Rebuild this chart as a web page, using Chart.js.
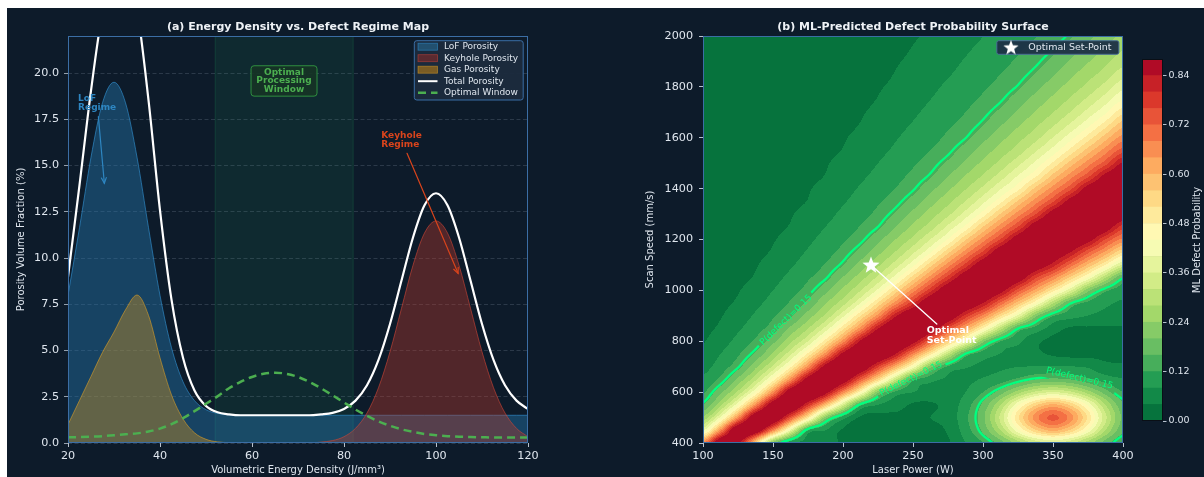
<!DOCTYPE html>
<html><head><meta charset="utf-8">
<script src="https://cdn.jsdelivr.net/npm/chart.js@4.4.1/dist/chart.umd.min.js"></script>
<style>
html,body{margin:0;padding:0;background:#ffffff;}
body{width:1204px;height:477px;overflow:hidden;position:relative;}
#fig{position:absolute;left:7px;top:8px;width:1197px;height:469px;background:#0d1b2a;}
canvas{position:absolute;top:0;}
</style></head><body>
<div id="fig"></div>
<canvas id="chartA" width="600" height="477" style="left:0;width:600px;height:477px;"></canvas>
<canvas id="chartB" width="540" height="477" style="left:600px;width:540px;height:477px;"></canvas>
<canvas id="chartC" width="76" height="477" style="left:1128px;width:76px;height:477px;"></canvas>
<script>
// ---------------- DATA: panel (a) ----------------
const energyDensity = [20,22.5,25,27.5,30,32.5,35,37.5,40,42.5,45,47.5,50,52.5,55,57.5,60,62.5,65,67.5,70,72.5,75,77.5,80,82.5,85,87.5,90,92.5,95,97.5,100,102.5,105,107.5,110,112.5,115,117.5,120];
const lofPorosity = [7.98,11.64,15.45,18.39,19.5,18.39,15.45,11.64,7.98,5.15,3.31,2.29,1.80,1.60,1.53,1.5,1.5,1.5,1.5,1.5,1.5,1.5,1.5,1.5,1.5,1.5,1.5,1.5,1.5,1.5,1.5,1.5,1.5,1.5,1.5,1.5,1.5,1.5,1.5,1.5,1.5];
const keyholePorosity = [0,0,0,0,0,0,0,0,0,0,0,0,0,0,0,0,0,0,0,0,0,0,0.05,0.13,0.34,0.79,1.62,2.99,4.93,7.28,9.61,11.35,12.0,11.35,9.61,7.28,4.93,2.99,1.62,0.79,0.34];
const gasPorosity = [1.0,2.3,3.6,4.9,6.0,7.2,8.0,6.9,4.6,2.6,1.3,0.55,0.2,0.06,0.02,0,0,0,0,0,0,0,0,0,0,0,0,0,0,0,0,0,0,0,0,0,0,0,0,0,0];
const totalPorosity = [8.98,13.94,19.05,23.3,25.5,25.6,23.45,18.54,12.58,7.75,4.61,2.84,2.0,1.66,1.55,1.5,1.5,1.5,1.5,1.5,1.5,1.5,1.55,1.63,1.84,2.29,3.12,4.49,6.43,8.78,11.11,12.85,13.5,12.85,11.11,8.78,6.43,4.49,3.12,2.29,1.84];
const optimalWindowCurve = [0.31,0.32,0.34,0.37,0.42,0.47,0.52,0.62,0.78,1.02,1.34,1.72,2.12,2.52,2.96,3.30,3.57,3.74,3.80,3.74,3.57,3.30,2.96,2.58,2.19,1.81,1.47,1.17,0.93,0.74,0.60,0.49,0.42,0.37,0.34,0.32,0.31,0.30,0.30,0.30,0.30];
const optimalRange = [52, 82];
const yTicksA = [0, 22, 2.5];

// ---------------- DATA: panel (b) ----------------
const laserPower = [100,112.5,125,137.5,150,162.5,175,187.5,200,212.5,225,237.5,250,262.5,275,287.5,300,312.5,325,337.5,350,362.5,375,387.5,400];
const scanSpeed = [400,450,500,550,600,650,700,750,800,850,900,950,1000,1050,1100,1150,1200,1250,1300,1350,1400,1450,1500,1550,1600,1650,1700,1750,1800,1850,1900,1950,2000];
const defectProb = [
[.66,.93,.87,.56,.22,.09,.066,.058,.035,.03,.03,.03,.03,.03,.035,.08,.12,.18,.26,.33,.36,.33,.26,.18,.12],
[.39,.66,.94,.91,.67,.39,.12,.08,.035,.03,.03,.03,.03,.03,.045,.10,.17,.28,.43,.55,.61,.55,.43,.28,.17],
[.25,.41,.66,.92,.94,.74,.50,.22,.10,.035,.03,.03,.03,.04,.055,.11,.19,.33,.51,.66,.73,.66,.51,.33,.19],
[.16,.27,.43,.66,.90,.95,.79,.59,.35,.135,.08,.06,.035,.035,.055,.10,.17,.28,.43,.55,.61,.55,.43,.28,.17],
[.115,.19,.29,.44,.66,.90,.96,.87,.67,.46,.215,.11,.08,.066,.06,.08,.12,.18,.26,.33,.36,.33,.26,.18,.12],
[.088,.13,.21,.31,.46,.66,.88,.96,.90,.725,.54,.33,.14,.094,.074,.074,.083,.10,.13,.16,.17,.16,.13,.10,.083],
[.066,.10,.146,.23,.33,.47,.66,.87,.96,.92,.77,.61,.43,.215,.114,.084,.076,.076,.079,.082,.084,.082,.075,.052,.046],
[.048,.08,.115,.167,.25,.35,.49,.66,.86,.95,.94,.84,.67,.50,.31,.147,.10,.079,.068,.05,.035,.03,.03,.03,.03],
[.038,.061,.093,.127,.188,.27,.36,.50,.66,.85,.95,.95,.87,.715,.56,.41,.215,.12,.09,.05,.03,.03,.03,.03,.03],
[.033,.046,.074,.104,.14,.21,.28,.375,.51,.66,.84,.94,.96,.90,.75,.62,.47,.30,.15,.106,.06,.035,.035,.035,.035],
[.029,.038,.058,.086,.115,.153,.22,.29,.39,.52,.66,.83,.93,.96,.91,.785,.67,.53,.39,.215,.124,.096,.079,.07,.064],
[.024,.033,.045,.069,.096,.125,.171,.237,.304,.40,.525,.66,.79,.92,.96,.92,.84,.709,.579,.447,.288,.154,.11,.088,.074],
[.02,.029,.038,.055,.08,.105,.136,.188,.25,.318,.41,.533,.66,.785,.91,.96,.94,.87,.74,.625,.50,.368,.215,.13,.10],
[.02,.025,.033,.043,.066,.09,.115,.146,.203,.262,.33,.419,.539,.66,.779,.90,.96,.94,.89,.767,.667,.548,.429,.283,.156],
[.02,.022,.03,.038,.053,.075,.098,.123,.159,.216,.272,.341,.428,.545,.66,.774,.90,.95,.95,.90,.82,.704,.591,.477,.353],
[.02,.02,.026,.034,.043,.063,.084,.106,.133,.174,.228,.283,.352,.436,.55,.66,.769,.90,.95,.96,.91,.84,.731,.63,.522],
[.02,.02,.023,.03,.038,.051,.072,.093,.115,.141,.188,.24,.292,.362,.443,.556,.66,.764,.89,.95,.96,.92,.87,.757,.667],
[.02,.02,.02,.028,.034,.042,.06,.08,.10,.122,.15,.20,.25,.30,.37,.45,.56,.66,.76,.89,.95,.96,.94,.89,.78],
[.02,.02,.02,.024,.031,.038,.05,.068,.088,.107,.13,.164,.212,.26,.31,.378,.459,.564,.66,.756,.88,.94,.96,.94,.90],
[.02,.02,.02,.021,.029,.034,.041,.058,.076,.095,.115,.138,.176,.222,.269,.321,.388,.467,.567,.66,.753,.87,.93,.96,.95],
[.02,.02,.02,.02,.025,.031,.038,.049,.066,.084,.101,.121,.146,.188,.232,.277,.33,.396,.467,.572,.66,.749,.87,.93,.96],
[.02,.02,.02,.02,.022,.029,.034,.041,.056,.073,.09,.108,.129,.155,.198,.242,.284,.338,.403,.472,.574,.66,.746,.86,.92],
[.02,.02,.02,.02,.02,.026,.032,.038,.048,.063,.08,.097,.115,.136,.167,.208,.25,.292,.347,.41,.487,.578,.66,.743,.85],
[.02,.02,.02,.02,.02,.023,.029,.035,.041,.054,.07,.086,.103,.12,.142,.178,.218,.258,.298,.354,.416,.493,.579,.66,.741],
[.02,.02,.02,.02,.02,.021,.027,.032,.038,.047,.061,.077,.093,.108,.127,.149,.188,.227,.266,.306,.362,.425,.498,.582,.66],
[.02,.02,.02,.02,.02,.02,.025,.03,.035,.041,.053,.068,.083,.098,.115,.133,.159,.197,.235,.273,.315,.368,.429,.503,.587],
[.02,.02,.02,.02,.02,.02,.022,.028,.033,.038,.046,.059,.074,.089,.104,.12,.14,.169,.206,.243,.279,.322,.375,.433,.508],
[.02,.02,.02,.02,.02,.02,.02,.025,.03,.035,.041,.052,.066,.08,.094,.11,.126,.146,.179,.215,.25,.286,.33,.381,.439],
[.02,.02,.02,.02,.02,.02,.02,.023,.029,.033,.038,.045,.058,.072,.086,.099,.115,.132,.153,.188,.222,.257,.292,.337,.388],
[.02,.02,.02,.02,.02,.02,.02,.021,.026,.031,.035,.041,.051,.064,.077,.091,.104,.12,.137,.162,.196,.23,.264,.297,.343],
[.02,.02,.02,.02,.02,.02,.02,.02,.024,.029,.033,.038,.045,.056,.069,.083,.096,.11,.125,.143,.171,.204,.237,.27,.304],
[.02,.02,.02,.02,.02,.02,.02,.02,.022,.027,.031,.035,.041,.05,.062,.075,.088,.101,.115,.131,.149,.18,.212,.243,.276],
[.02,.02,.02,.02,.02,.02,.02,.02,.02,.025,.029,.033,.038,.044,.055,.068,.08,.092,.105,.119,.136,.156,.19,.22,.25]
];
const colorLevels = [0,0.04,0.08,0.12,0.16,0.20,0.24,0.28,0.32,0.36,0.40,0.44,0.48,0.52,0.56,0.60,0.64,0.68,0.72,0.76,0.80,0.84,0.88];
const colorbarTicks = [0, 0.84, 0.12];
const contourLevel = 0.15;
const optimalPoint = {power: 220, speed: 1100};

// ---------------- STYLE / LAYOUT ----------------
const FONT = '"DejaVu Sans","Liberation Sans",Arial,sans-serif';
const TXT = '#dfe6ee';
const TICKC = '#b8c2ce';
const FRAME = '#3b6ea5';
const CONTOUR = '#00ff7f';
Chart.defaults.font.family = FONT;

const RDYLGN = ['#a50026','#d73027','#f46d43','#fdae61','#fee08b','#ffffbf','#d9ef8b','#a6d96a','#66bd63','#1a9850','#006837'];
function hex2rgb(h){return [parseInt(h.slice(1,3),16),parseInt(h.slice(3,5),16),parseInt(h.slice(5,7),16)];}
function rdylgnR(t){
  const s=(1-t)*10; const i=Math.min(9,Math.floor(s)); const f=s-i;
  const a=hex2rgb(RDYLGN[i]), b=hex2rgb(RDYLGN[i+1]);
  return [0,1,2].map(k=>Math.round(a[k]+(b[k]-a[k])*f));
}
const bandCount = colorLevels.length-1;
const bandRGB = [];
for(let i=0;i<bandCount;i++) bandRGB.push(rdylgnR((i+0.5)/bandCount));
function bandOf(p){
  let b=0; while(b<bandCount-1 && p>=colorLevels[b+1]) b++; return b;
}
function catmull(p0,p1,p2,p3,t){return p1+0.5*t*(p2-p0+t*(2*p0-5*p1+4*p2-p3+t*(3*(p1-p2)+p3-p0)));}
function sampleSurface(P,v){
  const nx=laserPower.length, ny=scanSpeed.length;
  const gx=(P-laserPower[0])/(laserPower[1]-laserPower[0]);
  const gy=(v-scanSpeed[0])/(scanSpeed[1]-scanSpeed[0]);
  let ix=Math.max(0,Math.min(nx-2,Math.floor(gx))), iy=Math.max(0,Math.min(ny-2,Math.floor(gy)));
  const tx=Math.max(0,Math.min(1,gx-ix)), ty=Math.max(0,Math.min(1,gy-iy));
  const g=(r,c)=>defectProb[Math.max(0,Math.min(ny-1,r))][Math.max(0,Math.min(nx-1,c))];
  const col=[];
  for(let j=-1;j<=2;j++){const r=iy+j; col.push(catmull(g(r,ix-1),g(r,ix),g(r,ix+1),g(r,ix+2),tx));}
  return catmull(col[0],col[1],col[2],col[3],ty);
}
function makeStar(r,color){
  const s=Math.ceil(r*2+2); const c=document.createElement('canvas'); c.width=s; c.height=s;
  const g=c.getContext('2d'); g.translate(s/2,s/2+0.5); g.beginPath();
  for(let i=0;i<10;i++){const rr=i%2?r*0.42:r; const a=-Math.PI/2+i*Math.PI/5; g.lineTo(rr*Math.cos(a),rr*Math.sin(a));}
  g.closePath(); g.fillStyle=color; g.fill(); return c;
}
function arrow(ctx,x1,y1,x2,y2,color,lw,head){
  ctx.save(); ctx.strokeStyle=color; ctx.lineWidth=lw; ctx.lineCap='round';
  ctx.beginPath(); ctx.moveTo(x1,y1); ctx.lineTo(x2,y2); ctx.stroke();
  if(head){const a=Math.atan2(y2-y1,x2-x1), L=6, w=0.42;
    ctx.beginPath(); ctx.moveTo(x2-L*Math.cos(a-w),y2-L*Math.sin(a-w)); ctx.lineTo(x2,y2); ctx.lineTo(x2-L*Math.cos(a+w),y2-L*Math.sin(a+w)); ctx.stroke();}
  ctx.restore();
}
function rrect(ctx,x,y,w,h,r){ctx.beginPath();ctx.moveTo(x+r,y);ctx.lineTo(x+w-r,y);ctx.quadraticCurveTo(x+w,y,x+w,y+r);ctx.lineTo(x+w,y+h-r);ctx.quadraticCurveTo(x+w,y+h,x+w-r,y+h);ctx.lineTo(x+r,y+h);ctx.quadraticCurveTo(x,y+h,x,y+h-r);ctx.lineTo(x,y+r);ctx.quadraticCurveTo(x,y,x+r,y);ctx.closePath();}

const COL = {
  lof:{fill:'rgba(41,128,185,0.40)', edge:'rgba(52,152,219,0.6)', sw:'#22506f'},
  key:{fill:'rgba(192,57,43,0.38)', edge:'rgba(210,70,55,0.6)', sw:'#5a2a30'},
  gas:{fill:'rgba(212,150,30,0.40)', edge:'rgba(220,160,40,0.6)', sw:'#7a5c24'},
  opt:'#4caf50'
};
const pts = arr => energyDensity.map((x,i)=>({x, y:arr[i]}));

// ---------------- PANEL (a) ----------------
const notes = {
  lof:{lines:['LoF','Regime'], tx:22.2, ty:18.6, from:[26.6,17.64], to:[27.9,14.04], color:'#2e86c1'},
  key:{lines:['Keyhole','Regime'], tx:88.1, ty:16.6, from:[93.7,15.66], to:[104.8,9.17], color:'#d9441c'},
  box:{lines:['Optimal','Processing','Window'], cx:66.96, cy:19.57}
};
const panelA = {
  id:'panelA',
  beforeDatasetsDraw(chart){
    const {ctx, chartArea:a, scales:{x}} = chart;
    const x1=x.getPixelForValue(optimalRange[0]), x2=x.getPixelForValue(optimalRange[1]);
    ctx.save();
    ctx.fillStyle='rgba(46,204,113,0.085)'; ctx.fillRect(x1,a.top,x2-x1,a.bottom-a.top);
    ctx.strokeStyle='rgba(46,204,113,0.16)'; ctx.lineWidth=1;
    ctx.beginPath(); ctx.moveTo(x1,a.top); ctx.lineTo(x1,a.bottom); ctx.moveTo(x2,a.top); ctx.lineTo(x2,a.bottom); ctx.stroke();
    ctx.restore();
  },
  afterDatasetsDraw(chart){
    const {ctx, chartArea:a, scales:{x,y}} = chart;
    ctx.save();
    ctx.strokeStyle=FRAME; ctx.lineWidth=1; ctx.strokeRect(a.left+0.5,a.top+0.5,a.right-a.left-1,a.bottom-a.top-1);
    ['lof','key'].forEach(k=>{
      const n=notes[k];
      ctx.font='bold 9px '+FONT; ctx.fillStyle=n.color; ctx.textAlign='left'; ctx.textBaseline='middle';
      const tx=x.getPixelForValue(n.tx), ty=y.getPixelForValue(n.ty);
      n.lines.forEach((s,i)=>ctx.fillText(s,tx,ty+i*8.7));
      arrow(ctx,x.getPixelForValue(n.from[0]),y.getPixelForValue(n.from[1]),x.getPixelForValue(n.to[0]),y.getPixelForValue(n.to[1]),n.color,1.2,true);
    });
    const b=notes.box, cx=x.getPixelForValue(b.cx), cy=y.getPixelForValue(b.cy);
    rrect(ctx,cx-33,cy-15.2,66,30.4,3); ctx.fillStyle='rgba(22,52,38,0.9)'; ctx.fill();
    ctx.strokeStyle='#2f8f40'; ctx.lineWidth=1; ctx.stroke();
    ctx.font='bold 9px '+FONT; ctx.fillStyle=COL.opt; ctx.textAlign='center'; ctx.textBaseline='middle';
    b.lines.forEach((s,i)=>ctx.fillText(s,cx,cy-8.7+i*8.7));
    const lx=a.right-113.7, ly=a.top+4.7;
    rrect(ctx,lx,ly,108.9,59.3,2.5); ctx.fillStyle='rgba(28,43,62,0.92)'; ctx.fill(); ctx.strokeStyle=FRAME; ctx.stroke();
    const items=[['LoF Porosity','lof'],['Keyhole Porosity','key'],['Gas Porosity','gas'],['Total Porosity','tot'],['Optimal Window','opt']];
    ctx.font='9px '+FONT; ctx.textAlign='left'; ctx.textBaseline='middle';
    items.forEach((it,i)=>{
      const yy=ly+6+i*11.5, sx=lx+3.7;
      if(COL[it[1]] && COL[it[1]].sw){ctx.fillStyle=COL[it[1]].sw; ctx.fillRect(sx,yy-3.5,19.5,7); ctx.strokeStyle=COL[it[1]].edge; ctx.lineWidth=0.8; ctx.strokeRect(sx,yy-3.5,19.5,7);}
      else if(it[1]==='tot'){ctx.strokeStyle='#ffffff'; ctx.lineWidth=2; ctx.beginPath(); ctx.moveTo(sx,yy); ctx.lineTo(sx+19.5,yy); ctx.stroke();}
      else {ctx.strokeStyle=COL.opt; ctx.lineWidth=2.5; ctx.setLineDash([8,5]); ctx.beginPath(); ctx.moveTo(sx,yy); ctx.lineTo(sx+19.5,yy); ctx.stroke(); ctx.setLineDash([]);}
      ctx.fillStyle=TXT; ctx.fillText(it[0],lx+29.7,yy);
    });
    ctx.font='bold 11px '+FONT; ctx.fillStyle='#eef2f6'; ctx.textAlign='center'; ctx.textBaseline='middle';
    ctx.fillText('(a) Energy Density vs. Defect Regime Map',(a.left+a.right)/2,26.7);
    ctx.restore();
  }
};

new Chart(document.getElementById('chartA'),{
  type:'line',
  data:{datasets:[
    {label:'Optimal Window', data:pts(optimalWindowCurve), borderColor:COL.opt, borderWidth:2.5, borderDash:[8,5], fill:false, pointRadius:0, cubicInterpolationMode:'monotone', order:0},
    {label:'Total Porosity', data:pts(totalPorosity), borderColor:'#ffffff', borderWidth:2.2, fill:false, pointRadius:0, cubicInterpolationMode:'monotone', order:1},
    {label:'Gas Porosity', data:pts(gasPorosity), borderColor:COL.gas.edge, backgroundColor:COL.gas.fill, borderWidth:1, fill:'origin', pointRadius:0, cubicInterpolationMode:'monotone', order:2},
    {label:'Keyhole Porosity', data:pts(keyholePorosity), borderColor:COL.key.edge, backgroundColor:COL.key.fill, borderWidth:1, fill:'origin', pointRadius:0, cubicInterpolationMode:'monotone', order:3},
    {label:'LoF Porosity', data:pts(lofPorosity), borderColor:COL.lof.edge, backgroundColor:COL.lof.fill, borderWidth:1, fill:'origin', pointRadius:0, cubicInterpolationMode:'monotone', order:4}
  ]},
  options:{
    responsive:false, animation:false, events:[],
    layout:{padding:{left:0,right:72,top:36,bottom:0}},
    plugins:{legend:{display:false}, tooltip:{enabled:false}, title:{display:false}},
    scales:{
      x:{type:'linear', min:20, max:120, afterFit(s){s.height=34;},
        ticks:{stepSize:20, color:TXT, font:{size:11.2}, padding:2, maxRotation:0},
        grid:{drawOnChartArea:false, drawTicks:true, tickLength:4, tickColor:TICKC},
        border:{display:false},
        title:{display:true, text:'Volumetric Energy Density (J/mm³)', color:TXT, font:{size:10}, padding:{top:0,bottom:1}}},
      y:{type:'linear', min:yTicksA[0], max:yTicksA[1], afterFit(s){s.width=68;},
        ticks:{stepSize:yTicksA[2], includeBounds:false, color:TXT, font:{size:11.2}, padding:5, callback:v=>Number(v).toFixed(1)},
        grid:{color:'rgba(150,165,185,0.28)', lineWidth:0.8, tickLength:4, tickColor:TICKC},
        border:{display:false, dash:[4,2.5]},
        title:{display:true, text:'Porosity Volume Fraction (%)', color:TXT, font:{size:10}, padding:{top:15,bottom:0}}}
    }
  },
  plugins:[panelA]
});

// ---------------- PANEL (b) ----------------
const contourLabels = [
  {power:159.3, speed:883, angle:-44},
  {power:248.6, speed:652, angle:-26},
  {power:369, speed:654, angle:13.5}
];
const setPointNote = {lines:['Optimal','Set-Point'], power:259.8, speed:844, arrowTo:{power:267, speed:868}};
const starBig = makeStar(9,'#ffffff');
const starSmall = makeStar(8,'#ffffff');
let surfaceCache = null;
function buildSurface(chart){
  const {chartArea:a, scales:{x,y}} = chart;
  const w=Math.round(a.right-a.left), h=Math.round(a.bottom-a.top);
  const img=document.createElement('canvas'); img.width=w; img.height=h;
  const g=img.getContext('2d'); const id=g.createImageData(w,h);
  for(let j=0;j<h;j++){ const v=y.getValueForPixel(a.top+j+0.5);
    for(let i=0;i<w;i++){ const P=x.getValueForPixel(a.left+i+0.5);
      const c=bandRGB[bandOf(sampleSurface(P,v))]; const o=(j*w+i)*4;
      id.data[o]=c[0]; id.data[o+1]=c[1]; id.data[o+2]=c[2]; id.data[o+3]=255; } }
  g.putImageData(id,0,0);
  const step=2, nx=Math.floor(w/step)+1, ny=Math.floor(h/step)+1;
  const f=new Float32Array(nx*ny);
  for(let j=0;j<ny;j++) for(let i=0;i<nx;i++) f[j*nx+i]=sampleSurface(x.getValueForPixel(a.left+i*step), y.getValueForPixel(a.top+j*step));
  const cc=document.createElement('canvas'); cc.width=w; cc.height=h; const cg=cc.getContext('2d');
  cg.strokeStyle=CONTOUR; cg.lineWidth=2.3; cg.lineCap='round'; cg.lineJoin='round'; cg.beginPath();
  const L=contourLevel;
  for(let j=0;j<ny-1;j++) for(let i=0;i<nx-1;i++){
    const v0=f[j*nx+i], v1=f[j*nx+i+1], v2=f[(j+1)*nx+i+1], v3=f[(j+1)*nx+i];
    const X0=i*step, Y0=j*step, p=[];
    if((v0>L)!==(v1>L)) p.push([X0+step*(L-v0)/(v1-v0),Y0]);
    if((v1>L)!==(v2>L)) p.push([X0+step,Y0+step*(L-v1)/(v2-v1)]);
    if((v3>L)!==(v2>L)) p.push([X0+step*(L-v3)/(v2-v3),Y0+step]);
    if((v0>L)!==(v3>L)) p.push([X0,Y0+step*(L-v0)/(v3-v0)]);
    if(p.length>=2){cg.moveTo(p[0][0],p[0][1]); cg.lineTo(p[1][0],p[1][1]);}
    if(p.length===4){cg.moveTo(p[2][0],p[2][1]); cg.lineTo(p[3][0],p[3][1]);}
  }
  cg.stroke();
  cg.globalCompositeOperation='destination-out';
  cg.font='9px '+FONT;
  const tw=cg.measureText('P(defect)=0.15').width;
  contourLabels.forEach(Lb=>{
    const px=x.getPixelForValue(Lb.power)-a.left, py=y.getPixelForValue(Lb.speed)-a.top;
    cg.save(); cg.translate(px,py); cg.rotate(Lb.angle*Math.PI/180); cg.fillRect(-tw/2-3,-7,tw+6,14); cg.restore();
  });
  return {img, contour:cc};
}
const panelB = {
  id:'panelB',
  beforeDatasetsDraw(chart){
    const {ctx, chartArea:a, scales:{x,y}} = chart;
    if(!surfaceCache) surfaceCache=buildSurface(chart);
    ctx.save();
    ctx.drawImage(surfaceCache.img,a.left,a.top);
    ctx.drawImage(surfaceCache.contour,a.left,a.top);
    ctx.font='9px '+FONT; ctx.fillStyle=CONTOUR; ctx.textAlign='center'; ctx.textBaseline='middle';
    contourLabels.forEach(Lb=>{
      ctx.save(); ctx.translate(x.getPixelForValue(Lb.power),y.getPixelForValue(Lb.speed)); ctx.rotate(Lb.angle*Math.PI/180);
      ctx.fillText('P(defect)=0.15',0,0); ctx.restore();
    });
    arrow(ctx,x.getPixelForValue(optimalPoint.power),y.getPixelForValue(optimalPoint.speed),
      x.getPixelForValue(setPointNote.arrowTo.power),y.getPixelForValue(setPointNote.arrowTo.speed),'#ffffff',1.3,false);
    ctx.font='bold 9.5px '+FONT; ctx.fillStyle='#ffffff'; ctx.textAlign='left'; ctx.textBaseline='middle';
    const tx=x.getPixelForValue(setPointNote.power), ty=y.getPixelForValue(setPointNote.speed);
    setPointNote.lines.forEach((s,i)=>ctx.fillText(s,tx,ty+i*10.5));
    ctx.restore();
  },
  afterDraw(chart){
    const {ctx, chartArea:a} = chart;
    ctx.save();
    ctx.strokeStyle=FRAME; ctx.lineWidth=1; ctx.strokeRect(a.left+0.5,a.top+0.5,a.right-a.left-1,a.bottom-a.top-1);
    const lx=a.right-126.2, ly=a.top+4.7;
    rrect(ctx,lx,ly,122.1,13.6,2); ctx.fillStyle='rgba(30,48,70,0.95)'; ctx.fill(); ctx.strokeStyle='#4a6f96'; ctx.lineWidth=1; ctx.stroke();
    ctx.drawImage(starSmall,lx+14.2-starSmall.width/2,ly+6.8-starSmall.height/2);
    ctx.font='9.5px '+FONT; ctx.fillStyle=TXT; ctx.textAlign='left'; ctx.textBaseline='middle';
    ctx.fillText('Optimal Set-Point',lx+31.5,ly+7);
    ctx.font='bold 11px '+FONT; ctx.fillStyle='#eef2f6'; ctx.textAlign='center';
    ctx.fillText('(b) ML-Predicted Defect Probability Surface',(a.left+a.right)/2,26.7);
    ctx.restore();
  }
};
new Chart(document.getElementById('chartB'),{
  type:'scatter',
  data:{datasets:[{label:'Optimal Set-Point', data:[{x:optimalPoint.power,y:optimalPoint.speed}], pointStyle:starBig, pointRadius:9, backgroundColor:'#ffffff', borderWidth:0}]},
  options:{
    responsive:false, animation:false, events:[],
    layout:{padding:{left:0,right:17,top:36,bottom:0}},
    plugins:{legend:{display:false}, tooltip:{enabled:false}},
    scales:{
      x:{type:'linear', min:100, max:400, afterFit(s){s.height=34;},
        ticks:{stepSize:50, color:TXT, font:{size:11.2}, padding:2, maxRotation:0, callback:v=>String(v)},
        grid:{drawOnChartArea:false, tickLength:4, tickColor:TICKC}, border:{display:false},
        title:{display:true, text:'Laser Power (W)', color:TXT, font:{size:10}, padding:{top:0,bottom:1}}},
      y:{type:'linear', min:400, max:2000, afterFit(s){s.width=103;},
        ticks:{stepSize:200, color:TXT, font:{size:11.2}, padding:6, callback:v=>String(v)},
        grid:{drawOnChartArea:false, tickLength:4, tickColor:TICKC}, border:{display:false},
        title:{display:true, text:'Scan Speed (mm/s)', color:TXT, font:{size:10}, padding:{top:44,bottom:0}}}
    }
  },
  plugins:[panelB]
});

// ---------------- COLORBAR ----------------
const panelC = {
  id:'panelC',
  afterDraw(chart){
    const {ctx, chartArea:a} = chart;
    ctx.save();
    ctx.strokeStyle='#0a0f16'; ctx.lineWidth=1; ctx.strokeRect(a.left+0.5,a.top+0.5,a.right-a.left-1,a.bottom-a.top-1);
    ctx.translate(69,(a.top+a.bottom)/2); ctx.rotate(-Math.PI/2);
    ctx.font='10px '+FONT; ctx.fillStyle=TXT; ctx.textAlign='center'; ctx.textBaseline='middle';
    ctx.fillText('ML Defect Probability',0,0);
    ctx.restore();
  }
};
new Chart(document.getElementById('chartC'),{
  type:'bar',
  data:{labels:['p'], datasets:colorLevels.slice(0,-1).map((lv,i)=>({data:[colorLevels[i+1]-lv], backgroundColor:'rgb('+bandRGB[i].join(',')+')', borderWidth:0, barPercentage:1, categoryPercentage:1}))},
  options:{
    responsive:false, animation:false, events:[],
    layout:{padding:{left:14,right:0,top:59,bottom:56}},
    plugins:{legend:{display:false}, tooltip:{enabled:false}},
    scales:{
      x:{display:false, stacked:true},
      y:{position:'right', stacked:true, min:0, max:colorLevels[colorLevels.length-1], afterFit(s){s.width=41;},
        ticks:{stepSize:colorbarTicks[2], includeBounds:false, color:TXT, font:{size:9.5}, padding:2, callback:v=>Number(v).toFixed(2)},
        grid:{drawOnChartArea:false, tickLength:3.5, tickColor:TICKC}, border:{display:false}}
    }
  },
  plugins:[panelC]
});
</script></body></html>
